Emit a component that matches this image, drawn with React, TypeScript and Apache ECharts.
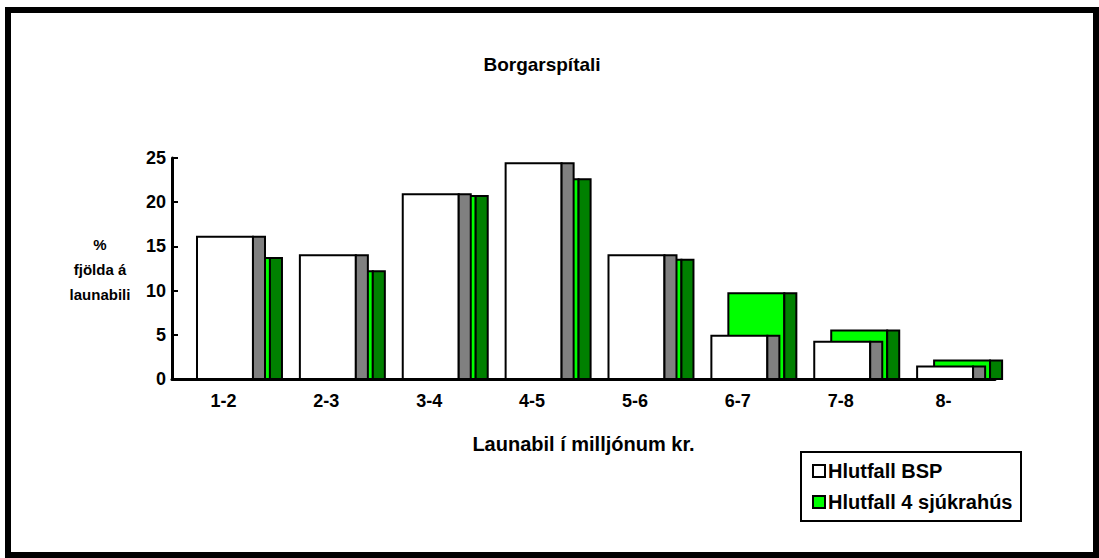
import React, { useEffect, useRef } from "react";
import * as echarts from "echarts";

const categories = ["1-2", "2-3", "3-4", "4-5", "5-6", "6-7", "7-8", "8-"];
const bspValues = [16.1, 14.0, 20.9, 24.4, 14.0, 4.9, 4.2, 1.4];
const allValues = [13.7, 12.2, 20.7, 22.6, 13.5, 9.7, 5.5, 2.1];
const yTicks = [0, 5, 10, 15, 20, 25];
const seriesNames = ["Hlutfall BSP", "Hlutfall 4 sjúkrahús"];

const FONT = "'Liberation Sans', Arial, sans-serif";

function makeRender(offsetFrac: number, front: string, side: string) {
  return (params: any, api: any) => {
    const idx = api.value(0);
    const v = api.value(1);
    const base = api.coord([idx, 0]);
    const top = api.coord([idx, v]);
    const band = api.size([1, 0])[0];
    const fw = band * 0.544;
    const sw = band * 0.117;
    const x = base[0] - fw / 2 + band * 0.015 + band * offsetFrac;
    const h = base[1] - top[1];
    return {
      type: "group",
      children: [
        {
          type: "rect",
          shape: { x, y: top[1], width: fw, height: h },
          style: { fill: front, stroke: "#000", lineWidth: 2 },
        },
        {
          type: "rect",
          shape: { x: x + fw, y: top[1], width: sw, height: h },
          style: { fill: side, stroke: "#000", lineWidth: 2 },
        },
      ],
    };
  };
}

export default function App() {
  const ref = useRef<HTMLDivElement>(null);
  useEffect(() => {
    if (!ref.current) return;
    const chart = echarts.init(ref.current, undefined, { renderer: "svg" });
    chart.setOption({
      animation: false,
      backgroundColor: "#fff",
      title: {
        text: "Borgarspítali",
        left: 537,
        textAlign: "center",
        top: 50,
        textStyle: { fontFamily: FONT, fontWeight: "bold", fontSize: 19, color: "#000" },
      },
      legend: {
        orient: "vertical",
        left: 812,
        top: 461,
        itemWidth: 12,
        itemHeight: 12,
        itemGap: 11,
        padding: 0,
        textStyle: { fontFamily: FONT, fontWeight: "bold", fontSize: 20, color: "#000", padding: [0, 0, 0, -2] },
        data: [
          { name: seriesNames[0], icon: "rect", itemStyle: { color: "#fff", borderColor: "#000", borderWidth: 2 } },
          { name: seriesNames[1], icon: "rect", itemStyle: { color: "#00ff00", borderColor: "#000", borderWidth: 2 } },
        ],
      },
      grid: { left: 172, top: 158, width: 823, height: 221, containLabel: false },
      xAxis: {
        type: "category",
        data: categories,
        boundaryGap: true,
        z: 5,
        name: "Launabil í milljónum kr.",
        nameLocation: "middle",
        nameGap: 55,
        nameTextStyle: { fontFamily: FONT, fontWeight: "bold", fontSize: 20, color: "#000" },
        axisLine: { lineStyle: { color: "#000", width: 3 } },
        axisTick: { inside: true, length: 6, lineStyle: { color: "#000", width: 2 } },
        axisLabel: { margin: 13, fontFamily: FONT, fontWeight: "bold", fontSize: 18, color: "#000" },
        splitLine: { show: false },
      },
      yAxis: {
        type: "value",
        min: yTicks[0],
        max: yTicks[yTicks.length - 1],
        interval: 5,
        z: 5,
        axisLine: { show: true, lineStyle: { color: "#000", width: 3 } },
        axisTick: { show: true, inside: true, length: 6, lineStyle: { color: "#000", width: 2 } },
        axisLabel: { margin: 6, fontFamily: FONT, fontWeight: "bold", fontSize: 18, color: "#000" },
        splitLine: { show: false },
      },
      graphic: [
        {
          type: "rect",
          shape: { x: 8, y: 10, width: 1088, height: 545 },
          style: { fill: "none", stroke: "#000", lineWidth: 6 },
          z: 100,
        },
        {
          type: "rect",
          shape: { x: 801, y: 452, width: 220, height: 69 },
          style: { fill: "none", stroke: "#000", lineWidth: 2 },
          z: 100,
        },
        {
          type: "text",
          x: 100,
          y: 269,
          style: {
            text: "%\nfjölda á\nlaunabili",
            font: "bold 15px " + FONT,
            fill: "#000",
            align: "center",
            verticalAlign: "middle",
            lineHeight: 25,
          },
          z: 100,
        },
      ],
      series: [
        {
          name: seriesNames[1],
          type: "custom",
          z: 2,
          itemStyle: { color: "#00ff00" },
          encode: { x: 0, y: 1 },
          data: allValues.map((v, i) => [i, v]),
          renderItem: makeRender(0.165, "#00ff00", "#008000"),
        },
        {
          name: seriesNames[0],
          type: "custom",
          z: 3,
          itemStyle: { color: "#fff" },
          encode: { x: 0, y: 1 },
          data: bspValues.map((v, i) => [i, v]),
          renderItem: makeRender(0, "#ffffff", "#808080"),
        },
      ],
    });
    return () => chart.dispose();
  }, []);
  return (
    <div
      ref={ref}
      style={{ position: "fixed", left: 0, top: 0, width: 1099, height: 558, background: "#fff" }}
    />
  );
}
